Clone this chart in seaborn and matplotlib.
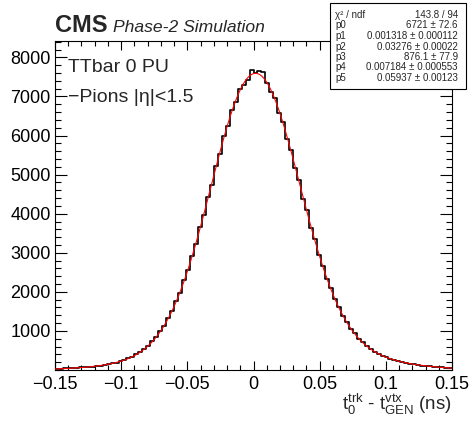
import numpy as np
import pandas as pd
import matplotlib
matplotlib.use('Agg')
import matplotlib.pyplot as plt
from matplotlib.patches import Rectangle
from matplotlib.ticker import MultipleLocator, FixedLocator, FixedFormatter
import seaborn as sns

# histogram: 100 bins from -0.15 to 0.15 ns (counts)
bin_lo, bin_hi, n_bins = -0.15, 0.15, 100
counts = [30, 29, 40, 39, 50, 52, 66, 68, 82, 88,
          108, 112, 126, 156, 172, 185, 236, 262, 301, 330,
          410, 452, 548, 618, 740, 832, 995, 1120, 1340, 1505,
          1762, 1978, 2300, 2548, 2930, 3218, 3655, 3960, 4420, 4745,
          5215, 5530, 5990, 6250, 6660, 6860, 7180, 7300, 7420, 7680,
          7600, 7640, 7630, 7340, 7110, 6950, 6580, 6340, 5920, 5640,
          5170, 4860, 4380, 4090, 3640, 3345, 2935, 2670, 2320, 2090,
          1805, 1615, 1380, 1232, 1050, 938, 798, 712, 605, 546,
          465, 420, 360, 330, 282, 258, 224, 206, 178, 165,
          141, 133, 114, 106, 90, 85, 72, 68, 56, 53]

# fit parameters from the stats box (double gaussian)
par_names = ['p0', 'p1', 'p2', 'p3', 'p4', 'p5']
par_values = [6721, 0.001318, 0.03276, 876.1, 0.007184, 0.05937]
par_labels = ['6721 ± 72.6', '0.001318 ± 0.000112', '0.03276 ± 0.00022',
              '876.1 ± 77.9', '0.007184 ± 0.000553', '0.05937 ± 0.00123']
chi2_label = '143.8 / 94'

xtick_values = [-0.15, -0.1, -0.05, 0, 0.05, 0.1, 0.15]
xtick_labels = ['−0.15', '−0.1', '−0.05', '0', '0.05', '0.1', '0.15']
ytick_values = [1000, 2000, 3000, 4000, 5000, 6000, 7000, 8000]

edges = np.linspace(bin_lo, bin_hi, n_bins + 1)
df = pd.DataFrame({'t': 0.5 * (edges[:-1] + edges[1:]), 'n': counts})

p = par_values
xf = np.linspace(bin_lo, bin_hi, 600)
yf = (p[0] * np.exp(-0.5 * ((xf - p[1]) / p[2]) ** 2)
      + p[3] * np.exp(-0.5 * ((xf - p[4]) / p[5]) ** 2))

sns.set_style('ticks')
plt.rcParams['font.family'] = ['Liberation Sans', 'DejaVu Sans']
plt.rcParams['mathtext.fontset'] = 'custom'
plt.rcParams['mathtext.rm'] = 'Liberation Sans'
plt.rcParams['mathtext.it'] = 'Liberation Sans:italic'

fig = plt.figure(figsize=(4.72, 4.21), dpi=100)
ax = fig.add_axes([55 / 472, 1 - 370 / 421, 397 / 472, 329 / 421])

sns.histplot(data=df, x='t', weights='n', bins=n_bins, binrange=(bin_lo, bin_hi),
             element='step', fill=False, color='black', linewidth=1.2, ax=ax, zorder=2)
sns.lineplot(x=xf, y=yf, color='red', linewidth=0.8, ax=ax, zorder=3)

ax.set_xlim(bin_lo, bin_hi)
ax.set_ylim(0, 8420)
ax.set_xlabel('')
ax.set_ylabel('')

ax.xaxis.set_major_locator(FixedLocator(xtick_values))
ax.xaxis.set_major_formatter(FixedFormatter(xtick_labels))
ax.xaxis.set_minor_locator(MultipleLocator(0.01))
ax.yaxis.set_major_locator(FixedLocator(ytick_values))
ax.yaxis.set_minor_locator(MultipleLocator(200))

ax.tick_params(axis='both', which='both', direction='in', top=True, right=True,
               labelsize=13, width=0.8, colors='black')
ax.tick_params(axis='x', which='major', length=6.5, pad=4)
ax.tick_params(axis='x', which='minor', length=3.6)
ax.tick_params(axis='y', which='major', length=8.6, pad=3)
ax.tick_params(axis='y', which='minor', length=4.3)
for s in ax.spines.values():
    s.set_linewidth(0.8)
    s.set_color('black')

# x axis title
fig.text(452 / 472, 1 - 410 / 421,
         r'$\mathrm{t}_{0}^{\mathrm{trk}}$ - $\mathrm{t}_{\mathrm{GEN}}^{\mathrm{vtx}}$ (ns)',
         ha='right', va='baseline', fontsize=13.5)

# CMS label
fig.text(55 / 472, 1 - 32 / 421, 'CMS', fontsize=17, fontweight='bold',
         ha='left', va='baseline')
fig.text(113 / 472, 1 - 32 / 421, 'Phase-2 Simulation', fontsize=12.6, style='italic',
         ha='left', va='baseline')

# sample labels
fig.text(68 / 472, 1 - 72 / 421, 'TTbar 0 PU', fontsize=14, ha='left', va='baseline')
fig.text(68 / 472, 1 - 102 / 421, '−Pions |η|<1.5', fontsize=14, ha='left', va='baseline')

# stats box
bx0, bx1, by0, by1 = 330, 466, 3, 89
fig.patches.append(Rectangle((bx0 / 472, 1 - by1 / 421), (bx1 - bx0) / 472,
                             (by1 - by0) / 421, transform=fig.transFigure,
                             facecolor='white', edgecolor='black', linewidth=0.8,
                             zorder=5))
rows = [('χ² / ndf', chi2_label)] + list(zip(par_names, par_labels))
for k, (name, val) in enumerate(rows):
    yy = 1 - (15 + k * 10.5) / 421
    fig.text(335 / 472, yy, name, fontsize=7, ha='left', va='center', zorder=6)
    fig.text(458 / 472, yy, val, fontsize=7, ha='right', va='center', zorder=6)

fig.savefig('out.png', dpi=100)
